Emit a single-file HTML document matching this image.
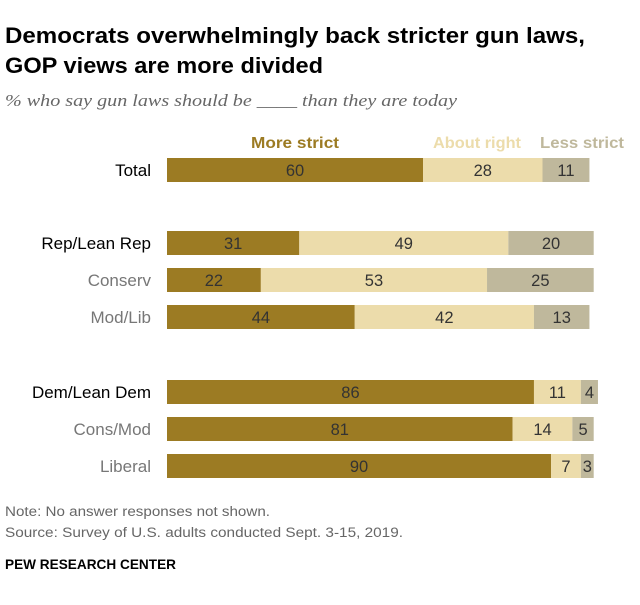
<!DOCTYPE html>
<html><head><meta charset="utf-8"><style>
body{margin:0;background:#fff;width:640px;height:600px;overflow:hidden;font-family:"Liberation Sans",sans-serif}
</style></head><body>
<svg width="640" height="600">
<text x="5" y="43" font-size="22" font-weight="bold" fill="#000" textLength="580" lengthAdjust="spacingAndGlyphs">Democrats overwhelmingly back stricter gun laws,</text>
<text x="5" y="73" font-size="22" font-weight="bold" fill="#000" textLength="318" lengthAdjust="spacingAndGlyphs">GOP views are more divided</text>
<text x="5" y="106" font-size="17" font-style="italic" fill="#666" font-family="Liberation Serif, serif" textLength="452" lengthAdjust="spacingAndGlyphs">% who say gun laws should be ____ than they are today</text>
<text x="251" y="148" font-size="16" font-weight="bold" fill="#9c7b23" textLength="88" lengthAdjust="spacingAndGlyphs">More strict</text>
<text x="433" y="148" font-size="16" font-weight="bold" fill="#ecdcab" textLength="88" lengthAdjust="spacingAndGlyphs">About right</text>
<text x="540" y="148" font-size="16" font-weight="bold" fill="#bfb89c" textLength="84" lengthAdjust="spacingAndGlyphs">Less strict</text>
<g id="bars"></g>
<text x="5" y="516" font-size="13.5" fill="#666" textLength="265" lengthAdjust="spacingAndGlyphs">Note: No answer responses not shown.</text>
<text x="5" y="537" font-size="13.5" fill="#666" textLength="398" lengthAdjust="spacingAndGlyphs">Source: Survey of U.S. adults conducted Sept. 3-15, 2019.</text>
<text x="5" y="569" font-size="14" font-weight="bold" fill="#000" textLength="171" lengthAdjust="spacingAndGlyphs">PEW RESEARCH CENTER</text>
</svg>
<script>
const categories=["Total","Rep/Lean Rep","Conserv","Mod/Lib","Dem/Lean Dem","Cons/Mod","Liberal"];
const moreStrict=[60,31,22,44,86,81,90];
const aboutRight=[28,49,53,42,11,14,7];
const lessStrict=[11,20,25,13,4,5,3];
const rowY=[158,231,268,305,380,417,454];
const x0=167, k=4.267, h=24;
const colors=["#9c7b23","#ecdcab","#bfb89c"];
const ns="http://www.w3.org/2000/svg";
const g=document.getElementById('bars');
function xs(v){return v*k;}
categories.forEach((c,i)=>{
  const sub=(i===2||i===3||i===5||i===6);
  const t=document.createElementNS(ns,'text');
  t.setAttribute('x',151);t.setAttribute('y',rowY[i]+18);t.setAttribute('text-anchor','end');
  t.setAttribute('font-size','17');t.setAttribute('fill',sub?'#777':'#000');
  t.textContent=c;
  
  
  g.appendChild(t);
  let x=x0;
  [moreStrict[i],aboutRight[i],lessStrict[i]].forEach((v,j)=>{
    const r=document.createElementNS(ns,'rect');
    r.setAttribute('x',x);r.setAttribute('y',rowY[i]);r.setAttribute('width',xs(v));r.setAttribute('height',h);
    r.setAttribute('fill',colors[j]);
    
    
    g.appendChild(r);
    const l=document.createElementNS(ns,'text');
    l.setAttribute('x',x+xs(v)/2);l.setAttribute('y',rowY[i]+18);l.setAttribute('text-anchor','middle');
    l.setAttribute('font-size','16.5');l.setAttribute('fill','#333');
    l.textContent=v;
    
    
    g.appendChild(l);
    x+=xs(v);
  });
});
</script>
</body></html>
